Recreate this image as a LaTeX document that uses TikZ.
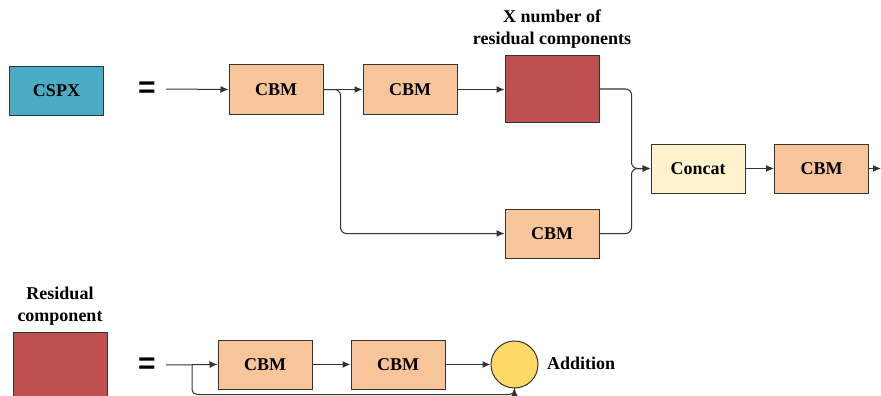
\documentclass[tikz,border=0pt]{standalone}
\usepackage{fontspec}
\setmainfont{Liberation Serif}
\setsansfont{Liberation Sans}
\usetikzlibrary{arrows.meta}
\definecolor{cbmfill}{HTML}{F8C49A}
\definecolor{cspxfill}{HTML}{4BACC6}
\definecolor{redfill}{HTML}{C0504D}
\definecolor{concatfill}{HTML}{FFF2CC}
\definecolor{addfill}{HTML}{FFD966}
\definecolor{edge}{HTML}{333333}
\begin{document}
\begin{tikzpicture}[x=1pt,y=-1pt,
  blk/.style={draw=edge,line width=1pt,minimum width=94pt,minimum height=49pt,inner sep=0pt,font=\fontsize{18}{20}\selectfont\bfseries},
  cbm/.style={blk,fill=cbmfill},
  redbox/.style={draw=edge,line width=1pt,fill=redfill,minimum width=94pt,minimum height=66pt,inner sep=0pt},
  lbl/.style={font=\fontsize{18}{22}\selectfont\bfseries,align=center,inner sep=0pt},
  eq/.style={font=\sffamily\bfseries\fontsize{30}{30}\selectfont,inner sep=0pt},
  arr/.style={draw=edge,line width=1pt,-{Latex[length=8pt,width=7pt]}},
  ln/.style={draw=edge,line width=1pt}]
\clip (0,0) rectangle (881,396);
\fill[white] (0,0) rectangle (881,396);
% top row
\node[blk,fill=cspxfill,minimum height=48pt] (cspx) at (56.5,91) {CSPX};
\node[eq] (eq1) at (147,90) {=};
\coordinate (in1) at (166,89);
\node[cbm] (c1) at (276,89.5) {CBM};
\node[cbm] (c2) at (410,89.5) {CBM};
\node[redbox] (rx) at (552,89) {};
\node[lbl] (rxl) at (552,29) {X number of\\residual components};
\node[cbm] (c3) at (552,233.5) {CBM};
\node[blk,fill=concatfill] (cc) at (698,168.5) {Concat};
\node[cbm] (c4) at (821.5,168.5) {CBM};
\coordinate (out1) at (881,168.5);
\draw[arr] (in1) -- (c1.west);
\draw[arr] (c1.east) -- (c2.west);
\draw[arr] (c2.east) -- (c2.east -| rx.west);
\draw[arr,rounded corners=6pt] (c1.east) -- ++(17,0) |- (c3.west);
\draw[arr,rounded corners=6pt] (rx.east) -- ++(32,0) |- (cc.west);
\draw[arr,rounded corners=6pt] (c3.east) -- ++(32,0) |- (cc.west);
\draw[arr] (cc.east) -- (c4.west);
\draw[arr] (c4.east) -- (out1);
% bottom row
\node[lbl] (rl) at (60,306) {Residual\\component};
\node[draw=edge,line width=1pt,fill=redfill,minimum width=94pt,minimum height=80pt,inner sep=0pt,anchor=north] (rb) at (60,332) {};
\node[eq] (eq2) at (147,366) {=};
\coordinate (in2) at (166,365);
\node[cbm] (c5) at (265,364.5) {CBM};
\node[cbm] (c6) at (398,364.5) {CBM};
\node[circle,draw=edge,line width=1pt,fill=addfill,minimum size=47pt,inner sep=0pt] (add) at (514.5,364.5) {};
\node[lbl,anchor=west] (addl) at (547,363) {Addition};
\coordinate (br) at (192,365);
\draw[arr] (in2) -- (c5.west);
\draw[arr] (c5.east) -- (c6.west);
\draw[arr] (c6.east) -- (add.west);
\draw[arr,rounded corners=5pt] (br) -- (192,394.5) -| (add.south);
\end{tikzpicture}
\end{document}
